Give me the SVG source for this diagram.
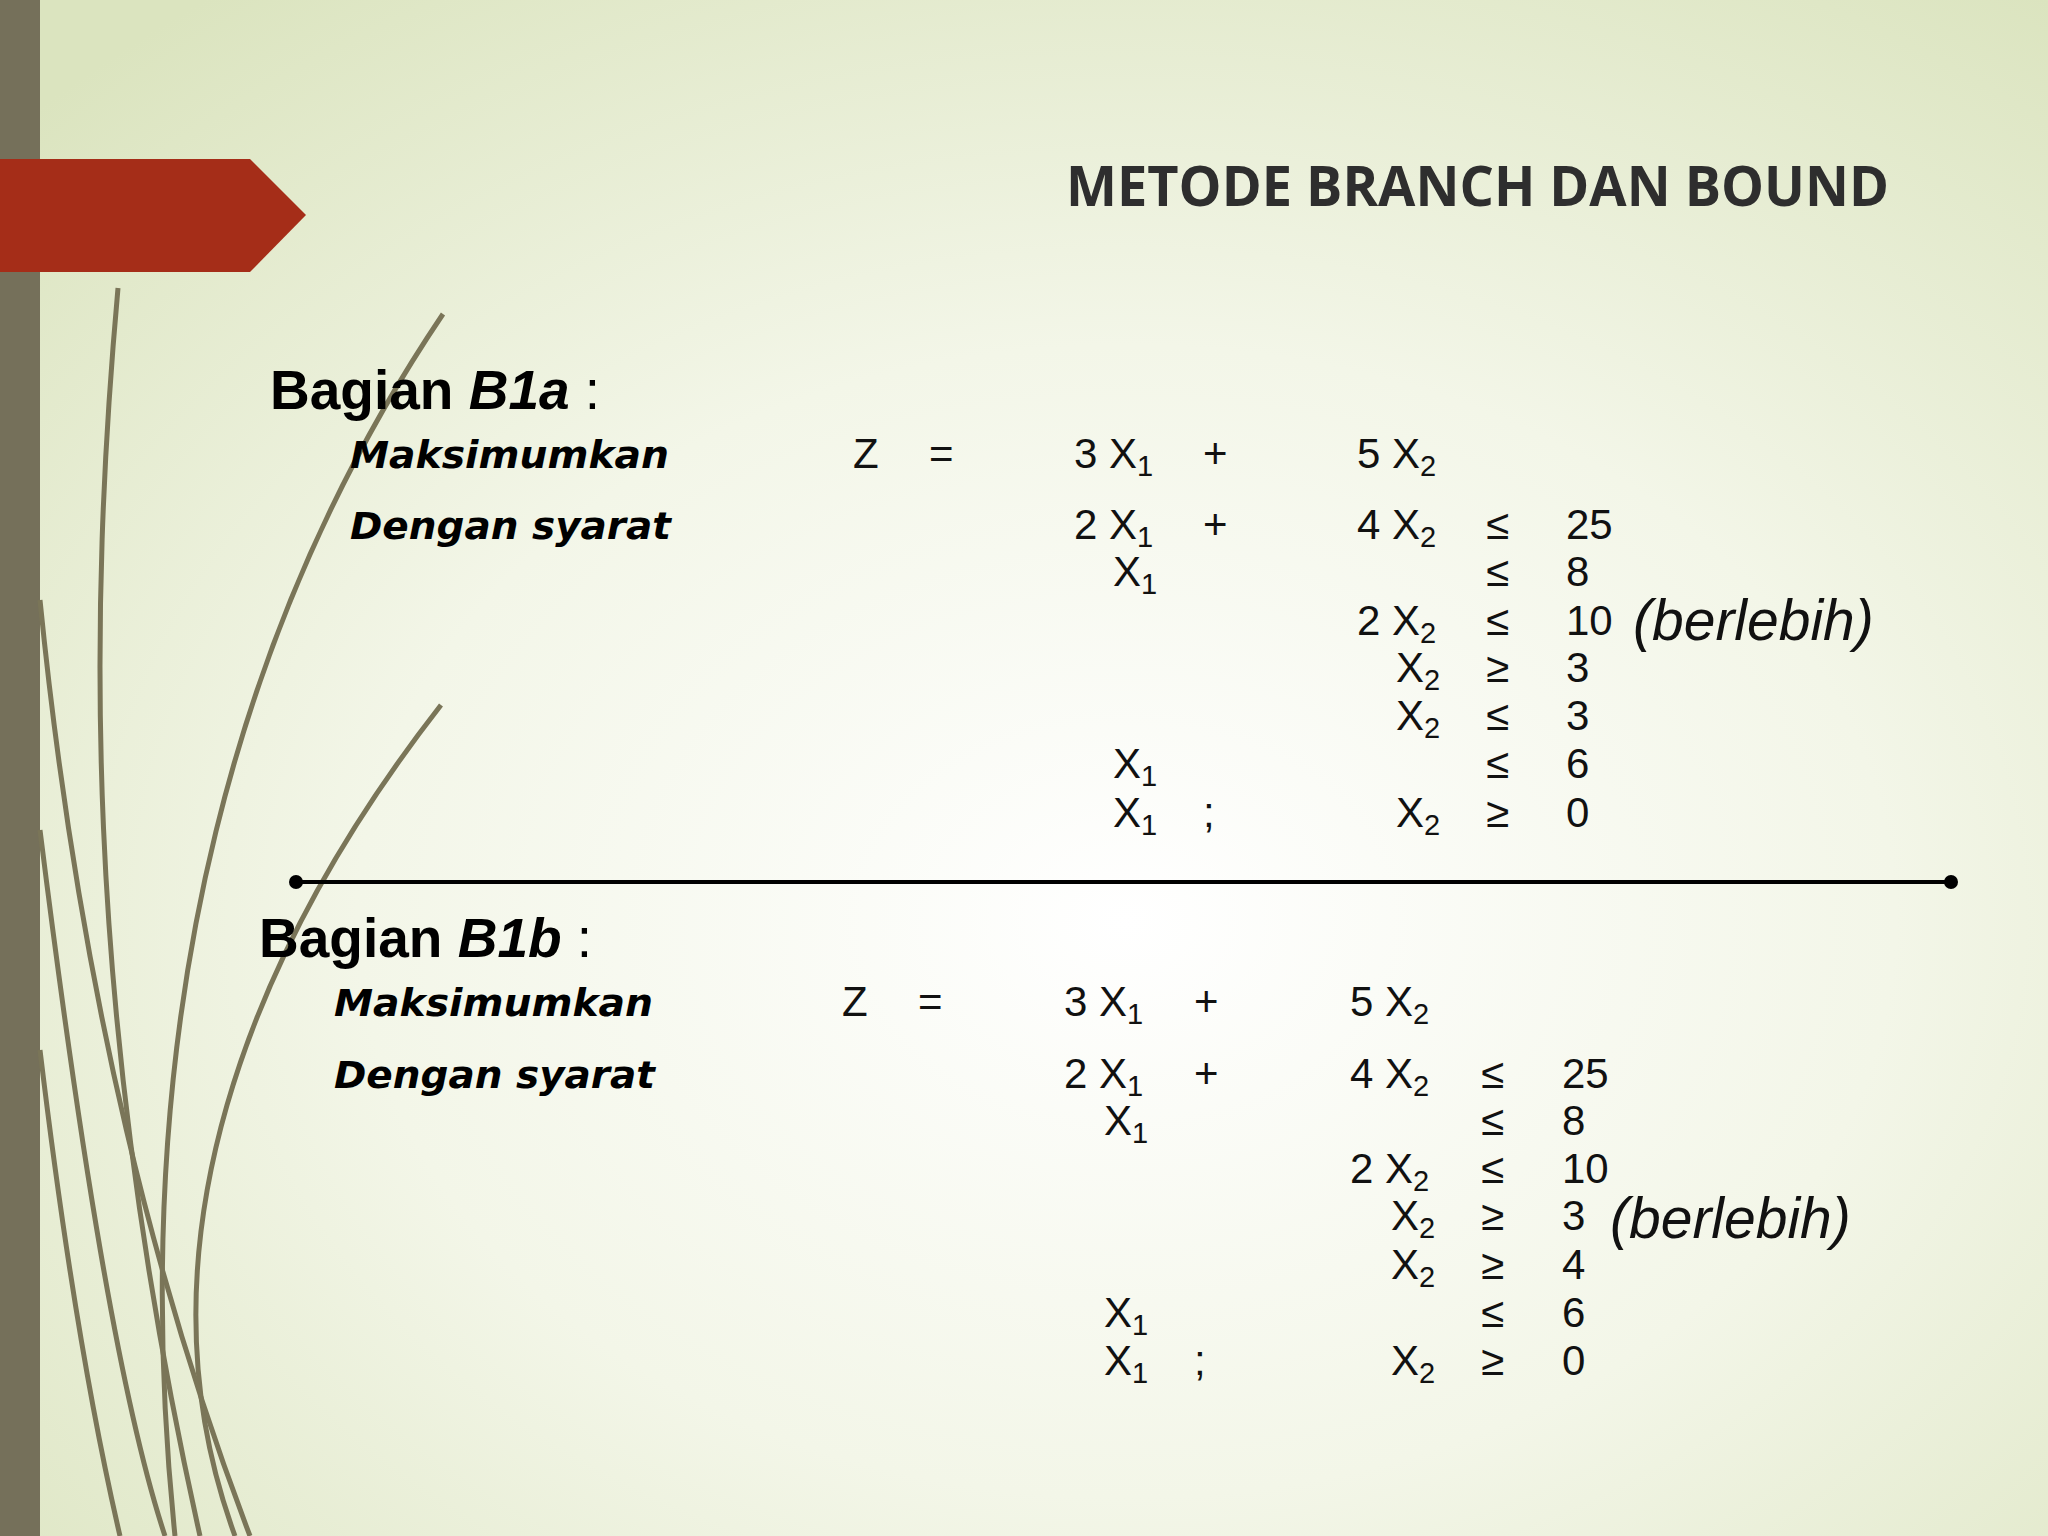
<svg xmlns="http://www.w3.org/2000/svg" width="2048" height="1536" viewBox="0 0 2048 1536">
<defs>
<radialGradient id="bg" cx="0.55" cy="0.6" r="0.75">
<stop offset="0" stop-color="#ffffff"/>
<stop offset="0.5" stop-color="#f3f6e8"/>
<stop offset="1" stop-color="#dbe4bf"/>
</radialGradient>
<style>
.m{font-family:"Liberation Sans",Arial,sans-serif;font-size:42px;fill:#111}
.h{font-family:"Liberation Sans",Arial,sans-serif;font-size:55px;font-weight:bold;fill:#000}
.l{font-family:"DejaVu Sans",Verdana,sans-serif;font-size:37px;font-weight:bold;font-style:italic;fill:#000}
.b{font-family:"Liberation Sans",Arial,sans-serif;font-size:57px;font-style:italic;fill:#111}
.s{font-size:29px}
.g{fill:none;stroke:#7a7558;stroke-width:5}
</style>
</defs>
<rect width="2048" height="1536" fill="url(#bg)"/>
<rect x="0" y="0" width="40" height="1536" fill="#75705a"/>
<g id="grass">
<path class="g" d="M118 288 C90 600 80 1000 200 1536"/>
<path class="g" d="M443 314 C250 600 120 1000 175 1536"/>
<path class="g" d="M441 705 C250 950 130 1250 235 1536"/>
<path class="g" d="M40 600 C80 1000 160 1300 250 1536"/>
<path class="g" d="M40 830 C80 1150 120 1400 165 1536"/>
<path class="g" d="M40 1050 C70 1300 100 1450 120 1536"/>
</g>
<path d="M0 159 H250 L306 215 L250 272 H0 Z" fill="#a52d18"/>
<text x="1066" y="206" font-family="Open Sans,Liberation Sans,sans-serif" font-weight="bold" font-size="56" fill="#2e2e2e" textLength="823" lengthAdjust="spacingAndGlyphs">METODE BRANCH DAN BOUND</text>

<g id="B1a">
<text class="h" x="270" y="409">Bagian <tspan font-style="italic">B1a</tspan><tspan font-weight="normal"> :</tspan></text>
<text class="l" x="350" y="468" textLength="319" lengthAdjust="spacingAndGlyphs">Maksimumkan</text>
<text class="l" x="350" y="539" textLength="321" lengthAdjust="spacingAndGlyphs">Dengan syarat</text>
<text class="m" x="853" y="468">Z</text><text class="m" x="929" y="468">=</text>
<text class="m" x="1074" y="468">3 X<tspan class="s" dy="8">1</tspan></text>
<text class="m" x="1203" y="468">+</text>
<text class="m" x="1357" y="468">5 X<tspan class="s" dy="8">2</tspan></text>
<text class="m" x="1074" y="539">2 X<tspan class="s" dy="8">1</tspan></text>
<text class="m" x="1203" y="539">+</text>
<text class="m" x="1357" y="539">4 X<tspan class="s" dy="8">2</tspan></text>
<text class="m" x="1486" y="539">≤</text><text class="m" x="1566" y="539">25</text>
<text class="m" x="1113" y="586">X<tspan class="s" dy="8">1</tspan></text>
<text class="m" x="1486" y="586">≤</text><text class="m" x="1566" y="586">8</text>
<text class="m" x="1357" y="635">2 X<tspan class="s" dy="8">2</tspan></text>
<text class="m" x="1486" y="635">≤</text><text class="m" x="1566" y="635">10</text>
<text class="b" x="1633" y="640">(berlebih)</text>
<text class="m" x="1396" y="682">X<tspan class="s" dy="8">2</tspan></text>
<text class="m" x="1486" y="682">≥</text><text class="m" x="1566" y="682">3</text>
<text class="m" x="1396" y="730">X<tspan class="s" dy="8">2</tspan></text>
<text class="m" x="1486" y="730">≤</text><text class="m" x="1566" y="730">3</text>
<text class="m" x="1113" y="778">X<tspan class="s" dy="8">1</tspan></text>
<text class="m" x="1486" y="778">≤</text><text class="m" x="1566" y="778">6</text>
<text class="m" x="1113" y="827">X<tspan class="s" dy="8">1</tspan></text>
<text class="m" x="1203" y="827">;</text>
<text class="m" x="1396" y="827">X<tspan class="s" dy="8">2</tspan></text>
<text class="m" x="1486" y="827">≥</text><text class="m" x="1566" y="827">0</text>
</g>

<g id="divider">
<line x1="296" y1="882" x2="1951" y2="882" stroke="#000" stroke-width="4"/>
<circle cx="296" cy="882" r="7"/><circle cx="1951" cy="882" r="7"/>
</g>

<g id="B1b">
<text class="h" x="259" y="957">Bagian <tspan font-style="italic">B1b</tspan><tspan font-weight="normal"> :</tspan></text>
<text class="l" x="334" y="1016" textLength="319" lengthAdjust="spacingAndGlyphs">Maksimumkan</text>
<text class="l" x="334" y="1088" textLength="321" lengthAdjust="spacingAndGlyphs">Dengan syarat</text>
<text class="m" x="842" y="1016">Z</text><text class="m" x="918" y="1016">=</text>
<text class="m" x="1064" y="1016">3 X<tspan class="s" dy="8">1</tspan></text>
<text class="m" x="1194" y="1016">+</text>
<text class="m" x="1350" y="1016">5 X<tspan class="s" dy="8">2</tspan></text>
<text class="m" x="1064" y="1088">2 X<tspan class="s" dy="8">1</tspan></text>
<text class="m" x="1194" y="1088">+</text>
<text class="m" x="1350" y="1088">4 X<tspan class="s" dy="8">2</tspan></text>
<text class="m" x="1481" y="1088">≤</text><text class="m" x="1562" y="1088">25</text>
<text class="m" x="1104" y="1135">X<tspan class="s" dy="8">1</tspan></text>
<text class="m" x="1481" y="1135">≤</text><text class="m" x="1562" y="1135">8</text>
<text class="m" x="1350" y="1183">2 X<tspan class="s" dy="8">2</tspan></text>
<text class="m" x="1481" y="1183">≤</text><text class="m" x="1562" y="1183">10</text>
<text class="m" x="1391" y="1230">X<tspan class="s" dy="8">2</tspan></text>
<text class="m" x="1481" y="1230">≥</text><text class="m" x="1562" y="1230">3</text>
<text class="b" x="1610" y="1238">(berlebih)</text>
<text class="m" x="1391" y="1279">X<tspan class="s" dy="8">2</tspan></text>
<text class="m" x="1481" y="1279">≥</text><text class="m" x="1562" y="1279">4</text>
<text class="m" x="1104" y="1327">X<tspan class="s" dy="8">1</tspan></text>
<text class="m" x="1481" y="1327">≤</text><text class="m" x="1562" y="1327">6</text>
<text class="m" x="1104" y="1375">X<tspan class="s" dy="8">1</tspan></text>
<text class="m" x="1194" y="1375">;</text>
<text class="m" x="1391" y="1375">X<tspan class="s" dy="8">2</tspan></text>
<text class="m" x="1481" y="1375">≥</text><text class="m" x="1562" y="1375">0</text>
</g>
</svg>
